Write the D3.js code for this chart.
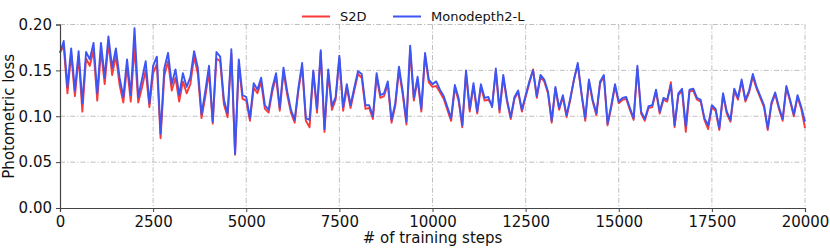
<!DOCTYPE html>
<html>
<head>
<meta charset="utf-8">
<script src="https://cdn.jsdelivr.net/npm/d3@7"></script>
<style>
  html, body { margin: 0; padding: 0; background: #fff; }
  svg { display: block; font-family: "DejaVu Sans", sans-serif; }
</style>
</head>
<body>
<svg id="chart" width="830" height="248"></svg>
<script>
// ---- data ----
const stepInterval = 100; // training steps between logged points
const s2d = [
  .170,.176,.125,.168,.122,.165,.105,.163,.155,.172,.117,.172,.135,.180,.145,.166,.134,.115,.154,.116,
  .176,.115,.131,.150,.110,.147,.157,.076,.144,.160,.128,.142,.116,.138,.125,.135,.165,.146,.098,.121,
  .148,.092,.163,.160,.113,.099,.168,.058,.156,.119,.117,.095,.131,.125,.137,.108,.104,.127,.143,.106,
  .148,.123,.104,.093,.128,.154,.095,.088,.148,.104,.170,.083,.147,.107,.118,.163,.106,.131,.109,.128,
  .146,.142,.108,.109,.097,.143,.120,.122,.135,.093,.111,.150,.124,.091,.172,.117,.140,.105,.166,.137,
  .132,.133,.126,.119,.107,.095,.131,.117,.088,.147,.105,.133,.103,.132,.117,.118,.112,.149,.104,.142,
  .116,.097,.119,.126,.105,.121,.136,.151,.120,.143,.138,.125,.093,.130,.107,.121,.099,.118,.141,.156,
  .124,.095,.138,.116,.101,.136,.143,.090,.110,.133,.114,.118,.119,.107,.096,.152,.103,.095,.109,.110,
  .127,.103,.118,.116,.137,.088,.123,.128,.083,.127,.128,.118,.116,.096,.086,.110,.106,.085,.123,.103,
  .094,.128,.118,.138,.116,.126,.143,.130,.120,.110,.085,.113,.124,.108,.095,.131,.116,.100,.121,.108,
  .087
];
const monodepth2L = [
  .169,.182,.132,.174,.128,.171,.114,.170,.162,.180,.125,.180,.142,.187,.153,.174,.142,.121,.162,.123,
  .196,.121,.140,.160,.114,.155,.165,.081,.152,.169,.135,.151,.123,.147,.132,.143,.171,.153,.102,.127,
  .155,.094,.170,.165,.118,.103,.173,.059,.162,.123,.121,.098,.136,.129,.142,.112,.107,.131,.147,.109,
  .153,.127,.107,.096,.131,.158,.098,.096,.150,.108,.172,.086,.151,.111,.121,.166,.110,.135,.112,.131,
  .149,.146,.112,.112,.100,.147,.123,.125,.138,.096,.114,.154,.127,.094,.177,.120,.143,.108,.169,.140,
  .135,.138,.129,.122,.110,.098,.134,.120,.090,.150,.108,.136,.105,.135,.120,.121,.110,.152,.107,.145,
  .118,.099,.121,.128,.107,.123,.138,.150,.122,.145,.140,.127,.095,.132,.109,.123,.101,.120,.140,.158,
  .125,.098,.140,.118,.103,.138,.145,.092,.112,.135,.116,.120,.121,.109,.098,.155,.105,.097,.111,.112,
  .129,.105,.120,.118,.134,.090,.125,.130,.089,.129,.130,.120,.118,.098,.090,.112,.108,.087,.125,.105,
  .096,.130,.120,.140,.118,.128,.146,.132,.122,.112,.087,.115,.126,.110,.097,.133,.118,.102,.123,.110,
  .094
];
const seriesNames = ["S2D", "Monodepth2-L"];
const seriesColors = ["#f83a3a", "#3d55f2"];
const xTicks = [0, 2500, 5000, 7500, 10000, 12500, 15000, 17500, 20000];
const yTicks = [0.00, 0.05, 0.10, 0.15, 0.20];
const xLabel = "# of training steps";
const yLabel = "Photometric loss";

// ---- layout ----
const svg = d3.select("#chart");
const m = { left: 60, right: 805, top: 24.5, bottom: 208 };
const x = d3.scaleLinear().domain([0, 20000]).range([m.left, m.right]);
const y = d3.scaleLinear().domain([0, 0.20]).range([m.bottom, m.top]);

// grid
const grid = svg.append("g").attr("stroke", "#b8b8b8").attr("stroke-width", 0.9)
  .attr("stroke-dasharray", "5,2,1.2,2").attr("fill", "none");
grid.selectAll("line.gx").data(xTicks.filter(d => d > 0)).join("line")
  .attr("x1", d => x(d)).attr("x2", d => x(d)).attr("y1", m.top).attr("y2", m.bottom);
grid.selectAll("line.gy").data(yTicks.filter(d => d > 0)).join("line")
  .attr("y1", d => y(d)).attr("y2", d => y(d)).attr("x1", m.left).attr("x2", m.right);

// lines
const series = [s2d, monodepth2L];
const line = d3.line().x((d, i) => x(i * stepInterval)).y(d => y(d));
series.forEach((vals, k) => {
  svg.append("path").datum(vals)
    .attr("fill", "none").attr("stroke", seriesColors[k])
    .attr("stroke-width", 1.9).attr("stroke-linejoin", "round")
    .attr("d", line);
});

// axes
const axisColor = "#444";
const xAxis = svg.append("g").attr("transform", `translate(0,${m.bottom})`)
  .call(d3.axisBottom(x).tickValues(xTicks).tickFormat(d3.format("d")).tickSizeOuter(0).tickSize(4).tickPadding(4));
const yAxis = svg.append("g").attr("transform", `translate(${m.left},0)`)
  .call(d3.axisLeft(y).tickValues(yTicks).tickFormat(d3.format(".2f")).tickSizeOuter(0).tickSize(4).tickPadding(4));
[xAxis, yAxis].forEach(g => {
  g.select(".domain").attr("stroke", axisColor).attr("stroke-width", 1.2);
  g.selectAll(".tick line").attr("stroke", axisColor).attr("stroke-width", 1);
  g.selectAll(".tick text").attr("fill", "#111").style("font-size", "15px")
    .style("font-family", '"DejaVu Sans", sans-serif');
});

// axis labels
svg.append("text").attr("x", (m.left + m.right) / 2).attr("y", 243)
  .attr("text-anchor", "middle").attr("fill", "#111").style("font-size", "15px").text(xLabel);
svg.append("text").attr("transform", `translate(13.5,${(m.top + m.bottom) / 2}) rotate(-90)`)
  .attr("text-anchor", "middle").attr("fill", "#111").style("font-size", "15px").text(yLabel);

// legend
const legX = [302, 393];
const leg = svg.append("g");
seriesNames.forEach((name, k) => {
  leg.append("line").attr("x1", legX[k]).attr("x2", legX[k] + 28).attr("y1", 16.5).attr("y2", 16.5)
    .attr("stroke", seriesColors[k]).attr("stroke-width", 2);
  leg.append("text").attr("x", legX[k] + 38).attr("y", 21).attr("fill", "#111")
    .style("font-size", "13px").text(name);
});
</script>
</body>
</html>
